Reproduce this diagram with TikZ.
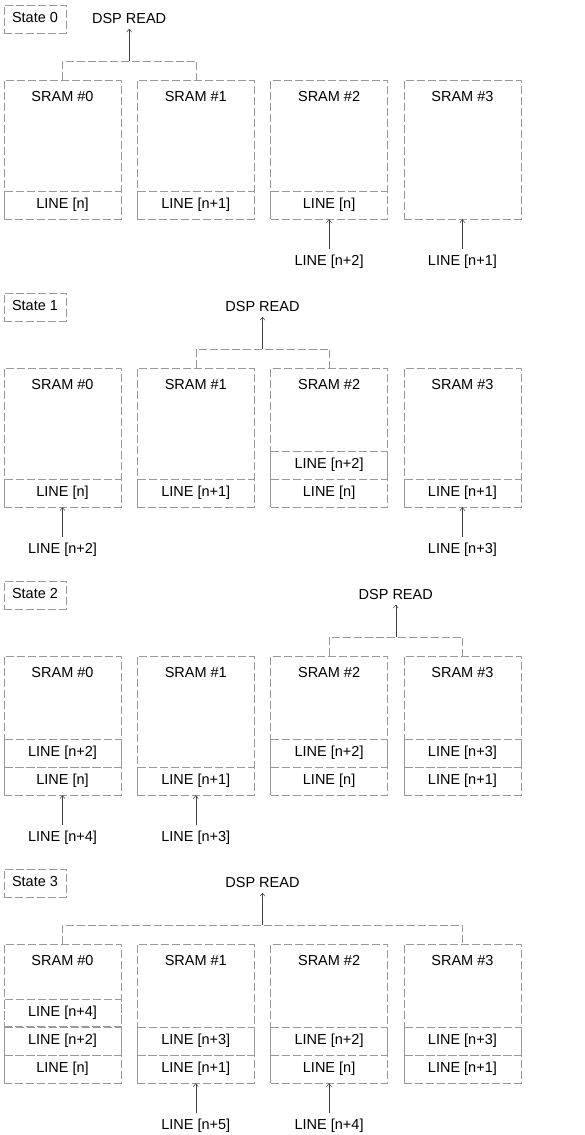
\documentclass[tikz,border=0pt]{standalone}
\usepackage{fontspec}
\setmainfont{Liberation Sans}
\usetikzlibrary{arrows.meta,positioning,calc}

\begin{document}
\begin{tikzpicture}[x=1pt, y=-1pt,
  >={Straight Barb[length=3pt,width=5pt]},
  txt/.style={font=\fontsize{14.5}{16}\selectfont, text height=10pt, text depth=3pt, inner sep=2pt},
  faint/.style={draw=black!40, line width=0.5pt, dash pattern=on 8pt off 3pt},
  sram/.style={faint, minimum width=117pt, minimum height=139pt, inner sep=0pt},
  slot/.style={txt, faint, minimum width=117pt, minimum height=27.7pt, inner sep=0pt},
  statebox/.style={txt, faint, minimum width=62pt, minimum height=28pt},
  arr/.style={->, draw=black!75, line width=0.5pt}]
  \useasboundingbox (0,0) rectangle (584,1135);

  % four states, each with four SRAM banks
  \foreach \s/\y in {0/19,1/307,2/595,3/883}{
    \node[statebox] (st\s) at (35,\y) {State \s};
    \foreach \k in {0,1,2,3}{
      \node[sram] (m\s\k) at (62.5+133.3*\k,\y+130.5) {};
      \node[txt] (t\s\k) at ([yshift=-18pt]m\s\k.north) {SRAM \#\k};
    }
  }

  % state 0
  \node[slot, above=0pt of m00.south] (l00a) {LINE [n]};
  \node[slot, above=0pt of m01.south] (l01a) {LINE [n+1]};
  \node[slot, above=0pt of m02.south] (l02a) {LINE [n]};
  \coordinate (bus0) at ($(m00.north)!0.5!(m01.north)+(0,-19)$);
  \draw[faint] (m00.north) |- (bus0) -| (m01.north);
  \node[txt, above=32pt of bus0] (dsp0) {DSP READ};
  \draw[arr] (bus0) -- (dsp0);
  \node[txt, below=34pt of m02] (in0a) {LINE [n+2]};
  \node[txt, below=34pt of m03] (in0b) {LINE [n+1]};
  \draw[arr, shorten <=4pt] (in0a) -- (m02);
  \draw[arr, shorten <=4pt] (in0b) -- (m03);

  % state 1
  \node[slot, above=0pt of m10.south] (l10a) {LINE [n]};
  \node[slot, above=0pt of m11.south] (l11a) {LINE [n+1]};
  \node[slot, above=0pt of m12.south] (l12a) {LINE [n]};
  \node[slot, above=0pt of l12a] (l12b) {LINE [n+2]};
  \node[slot, above=0pt of m13.south] (l13a) {LINE [n+1]};
  \coordinate (bus1) at ($(m11.north)!0.5!(m12.north)+(0,-19)$);
  \draw[faint] (m11.north) |- (bus1) -| (m12.north);
  \node[txt, above=32pt of bus1] (dsp1) {DSP READ};
  \draw[arr] (bus1) -- (dsp1);
  \node[txt, below=34pt of m10] (in1a) {LINE [n+2]};
  \node[txt, below=34pt of m13] (in1b) {LINE [n+3]};
  \draw[arr, shorten <=4pt] (in1a) -- (m10);
  \draw[arr, shorten <=4pt] (in1b) -- (m13);

  % state 2
  \node[slot, above=0pt of m20.south] (l20a) {LINE [n]};
  \node[slot, above=0pt of l20a] (l20b) {LINE [n+2]};
  \node[slot, above=0pt of m21.south] (l21a) {LINE [n+1]};
  \node[slot, above=0pt of m22.south] (l22a) {LINE [n]};
  \node[slot, above=0pt of l22a] (l22b) {LINE [n+2]};
  \node[slot, above=0pt of m23.south] (l23a) {LINE [n+1]};
  \node[slot, above=0pt of l23a] (l23b) {LINE [n+3]};
  \coordinate (bus2) at ($(m22.north)!0.5!(m23.north)+(0,-19)$);
  \draw[faint] (m22.north) |- (bus2) -| (m23.north);
  \node[txt, above=32pt of bus2] (dsp2) {DSP READ};
  \draw[arr] (bus2) -- (dsp2);
  \node[txt, below=34pt of m20] (in2a) {LINE [n+4]};
  \node[txt, below=34pt of m21] (in2b) {LINE [n+3]};
  \draw[arr, shorten <=4pt] (in2a) -- (m20);
  \draw[arr, shorten <=4pt] (in2b) -- (m21);

  % state 3
  \node[slot, above=0pt of m30.south] (l30a) {LINE [n]};
  \node[slot, above=0pt of l30a] (l30b) {LINE [n+2]};
  \node[slot, above=0pt of l30b] (l30c) {LINE [n+4]};
  \node[slot, above=0pt of m31.south] (l31a) {LINE [n+1]};
  \node[slot, above=0pt of l31a] (l31b) {LINE [n+3]};
  \node[slot, above=0pt of m32.south] (l32a) {LINE [n]};
  \node[slot, above=0pt of l32a] (l32b) {LINE [n+2]};
  \node[slot, above=0pt of m33.south] (l33a) {LINE [n+1]};
  \node[slot, above=0pt of l33a] (l33b) {LINE [n+3]};
  \coordinate (bus3) at ($(m30.north)!0.5!(m33.north)+(0,-19)$);
  \draw[faint] (m30.north) |- (bus3) -| (m33.north);
  \node[txt, above=32pt of bus3] (dsp3) {DSP READ};
  \draw[arr] (bus3) -- (dsp3);
  \node[txt, below=34pt of m31] (in3a) {LINE [n+5]};
  \node[txt, below=34pt of m32] (in3b) {LINE [n+4]};
  \draw[arr, shorten <=4pt] (in3a) -- (m31);
  \draw[arr, shorten <=4pt] (in3b) -- (m32);
\end{tikzpicture}
\end{document}
